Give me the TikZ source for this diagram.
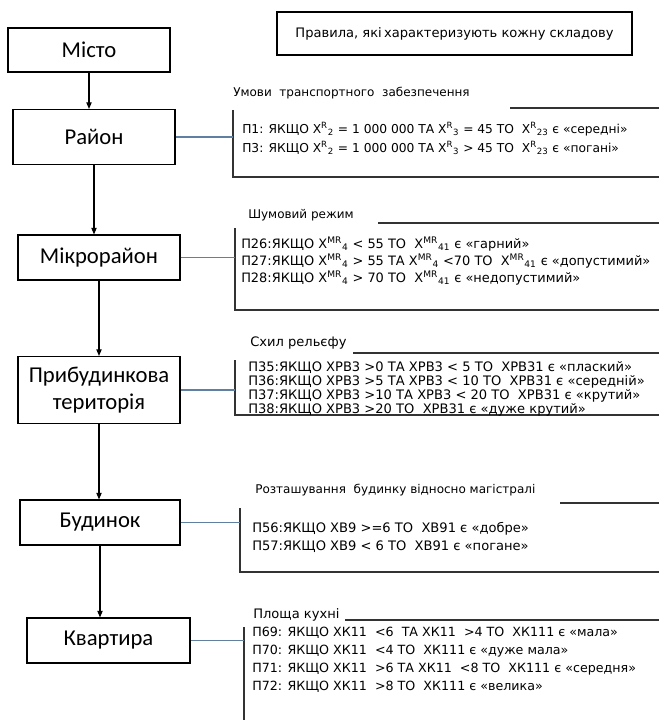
\documentclass[tikz,border=0pt]{standalone}
\usepackage{fontspec}
\setmainfont{DejaVu Sans}
\newfontfamily\boxfont{Carlito}
\usepackage{tikz}
\usetikzlibrary{arrows.meta}
\definecolor{linkblue}{RGB}{96,128,160}
\newcommand{\xsym}[2]{X\textsuperscript{#1}\textsubscript{#2}}

\begin{document}
\begin{tikzpicture}[x=0.75pt,y=-0.75pt,
    level/.style={draw, line width=0.8pt, minimum width=121.5pt, minimum height=33.75pt, align=center,
      font=\boxfont\fontsize{17}{20.5}\selectfont},
    rules/.style={anchor=west, inner sep=0pt, align=left, font=\fontsize{9.8}{13.5}\selectfont},
    heading/.style={anchor=west, inner sep=0pt, font=\fontsize{9}{11}\selectfont},
    arr/.style={-{Triangle[length=5pt,width=4pt]}, line width=0.8pt},
    link/.style={draw=linkblue, line width=0.8pt},
    bracket/.style={line width=1pt, black!80}]
  % Fix the margins
  \useasboundingbox (0,0) rectangle (659,720);

  % Draw the levels on the left
  \node[level, minimum height=33pt] (misto) at (89,50) {Місто};
  \node[level, minimum height=41.25pt] (rajon) at (94,137) {Район};
  \node[level] (mikro) at (99,257.5) {Мікрорайон};
  \node[level, minimum height=50.25pt] (terr) at (99,390) {Прибудинкова\\територія};
  \node[level, minimum width=120pt] (budynok) at (100,522.5) {Будинок};
  \node[level, minimum width=122.25pt] (kvart) at (108.5,640.5) {Квартира};

  % Arrows between the levels
  \draw[arr] (misto.south) -- (misto.south |- rajon.north);
  \draw[arr] (rajon.south) -- (rajon.south |- mikro.north);
  \draw[arr] (mikro.south) -- (mikro.south |- terr.north);
  \draw[arr] (terr.south) -- (terr.south |- budynok.north);
  \draw[arr] (budynok.south) -- (budynok.south |- kvart.north);

  % Header box
  \node[draw, line width=0.8pt, minimum width=266.25pt, minimum height=32.25pt,
    font=\fontsize{9.8}{12}\selectfont] (title) at (454.5,33.5) {Правила, які\,характеризують кожну складову};

  % Brackets round the rules: top line start, top line y, left x, left top, bottom
  \foreach \i/\tx/\ty/\vx/\vt/\vb in {1/510/108/233/110/177, 2/378/223/235/228/310,
      3/353/353/235/360/415, 4/560/503/240/508/572}{
    \draw[bracket] (\tx,\ty) -- (659,\ty);
    \draw[bracket] (\vx,\vt) -- (\vx,\vb) -- (659,\vb);
    \coordinate (br\i) at (\vx,\vt);
  }
  \draw[bracket] (345,620) -- (659,620);
  \draw[bracket] (244,627) -- (244,720);
  \coordinate (br5) at (244,627);

  % Headings
  \node[heading] (h1) at (233,93) {Умови\ \ транспортного\ \ забезпечення};
  \node[heading] (h2) at (248,215) {Шумовий режим};
  \node[heading, font=\fontsize{9.8}{11}\selectfont] (h3) at (250,343) {Схил рельєфу};
  \node[heading] (h4) at (255,490) {Розташування\ \ будинку відносно магістралі};
  \node[heading, font=\fontsize{9.8}{11}\selectfont] (h5) at (253,615) {Площа кухні};

  % Rules
  \node[rules, font=\fontsize{9.2}{14.25}\selectfont] (r1) at (242,138.5) {%
    П1: ЯКЩО \xsym{R}{2} = 1 000 000 ТА \xsym{R}{3} = 45 ТО \ \xsym{R}{23} є «середні»\\
    П3: ЯКЩО \xsym{R}{2} = 1 000 000 ТА \xsym{R}{3} > 45 ТО \ \xsym{R}{23} є «погані»};
  \node[rules, font=\fontsize{9.7}{12.75}\selectfont] (r2) at (241,261) {%
    П26:ЯКЩО \xsym{MR}{4} < 55 ТО \ \xsym{MR}{41} є «гарний»\\
    П27:ЯКЩО \xsym{MR}{4} > 55 ТА \xsym{MR}{4} <70 ТО \ \xsym{MR}{41} є «допустимий»\\
    П28:ЯКЩО \xsym{MR}{4} > 70 ТО \ \xsym{MR}{41} є «недопустимий»};
  \node[rules, font=\fontsize{9.8}{10.5}\selectfont] (r3) at (248,389) {%
    П35:ЯКЩО ХРВ3 >0 ТА ХРВ3 < 5 ТО \ ХРВ31 є «плаский»\\
    П36:ЯКЩО ХРВ3 >5 ТА ХРВ3 < 10 ТО \ ХРВ31 є «середній»\\
    П37:ЯКЩО ХРВ3 >10 ТА ХРВ3 < 20 ТО \ ХРВ31 є «крутий»\\
    П38:ЯКЩО ХРВ3 >20 ТО \ ХРВ31 є «дуже крутий»};
  \node[rules] (r4) at (252,537) {%
    П56:ЯКЩО ХВ9 >=6 ТО \ ХВ91 є «добре»\\
    П57:ЯКЩО ХВ9 < 6 ТО \ ХВ91 є «погане»};
  \node[rules, font=\fontsize{9.5}{13.5}\selectfont] (r5) at (252,660) {%
    П69: ЯКЩО ХК11 \ <6 \ ТА ХК11 \ >4 ТО \ ХК111 є «мала»\\
    П70: ЯКЩО ХК11 \ <4 ТО \ ХК111 є «дуже мала»\\
    П71: ЯКЩО ХК11 \ >6 ТА ХК11 \ <8 ТО \ ХК111 є «середня»\\
    П72: ЯКЩО ХК11 \ >8 ТО \ ХК111 є «велика»};

  % Links from each level to its rules
  \draw[link] (rajon.east) -- (rajon.east -| br1);
  \draw[link] (mikro.east) -- (mikro.east -| br2);
  \draw[link] (terr.east) -- (terr.east -| br3);
  \draw[link] (budynok.east) -- (budynok.east -| br4);
  \draw[link] (kvart.east) -- (kvart.east -| br5);
\end{tikzpicture}
\end{document}
